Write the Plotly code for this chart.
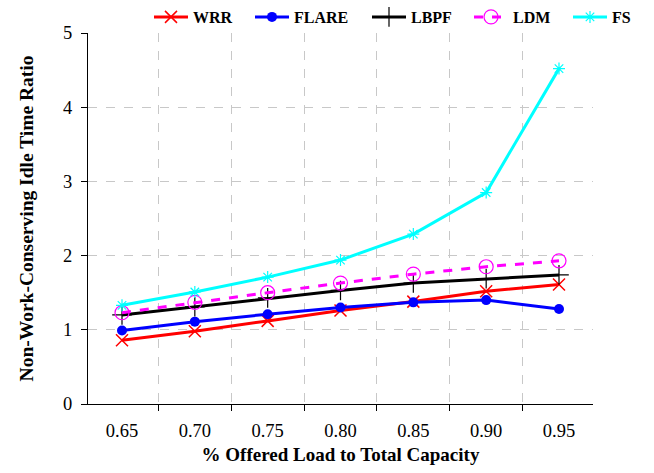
import plotly.graph_objects as go

loads = ["0.65", "0.70", "0.75", "0.80", "0.85", "0.90", "0.95"]
wrr = [0.86, 0.98, 1.12, 1.26, 1.38, 1.52, 1.61]
flare = [0.99, 1.11, 1.21, 1.30, 1.37, 1.40, 1.28]
lbpf = [1.20, 1.31, 1.43, 1.53, 1.63, 1.69, 1.74]
ldm = [1.23, 1.37, 1.50, 1.63, 1.75, 1.85, 1.93]
fs = [1.33, 1.51, 1.71, 1.94, 2.29, 2.85, 4.52]
y_ticks = [0, 1, 2, 3, 4, 5]

FONT = "Liberation Serif"
W, H = 654, 473

# name, values, colour, dash, marker, legend x (px)
series = [
    ("WRR", wrr, "#ff0000", "solid", dict(symbol="x-thin", size=12, line=dict(width=1.5, color="#ff0000")), 149),
    ("FLARE", flare, "#0000ff", "solid", dict(symbol="circle", size=10, color="#0000ff"), 250),
    ("LBPF", lbpf, "#000000", "solid", dict(symbol="cross-thin", size=14, line=dict(width=1.2, color="#000000")), 367),
    ("LDM", ldm, "#ff00ff", "dash", dict(symbol="circle-open", size=14, line=dict(width=1.2, color="#ff00ff")), 469),
    ("FS", fs, "#00ffff", "solid", dict(symbol="asterisk-open", size=10, line=dict(width=1.2, color="#00ffff")), 568),
]

fig = go.Figure()
legends = {}
for i, (name, vals, color, dash, marker, lx) in enumerate(series):
    key = "legend" if i == 0 else f"legend{i + 1}"
    fig.add_trace(go.Scatter(
        x=loads, y=vals, name=name, mode="lines+markers",
        line=dict(color=color, width=3, dash=dash),
        marker=marker, legend=key,
    ))
    legends[key] = dict(
        orientation="h", x=lx / W, y=1.0, xref="container", yref="container",
        xanchor="left", yanchor="top",
        font=dict(family=FONT, size=16, color="black", weight="bold"),
        itemwidth=34, bgcolor="rgba(0,0,0,0)",
    )

fig.update_layout(
    width=W, height=H,
    margin=dict(l=88, r=61, t=33, b=69, autoexpand=False),
    plot_bgcolor="white", paper_bgcolor="white",
    font=dict(family=FONT, size=19, color="black"),
    showlegend=True,
    **legends,
)
fig.update_xaxes(
    type="category", tickson="boundaries", ticks="outside", ticklen=6,
    tickcolor="black", showline=True, linecolor="black", linewidth=1.3,
    showgrid=True, gridcolor="#c8c8c8", griddash="dash", gridwidth=1,
    ticklabelstandoff=10,
    title=dict(text="% Offered Load to Total Capacity",
               font=dict(family=FONT, size=19, weight="bold"), standoff=7),
    tickfont=dict(family=FONT, size=18.5),
)
fig.update_yaxes(
    range=[0, 5], tickvals=y_ticks, ticks="outside", ticklen=6,
    tickcolor="black", showline=True, linecolor="black", linewidth=1.3,
    showgrid=True, gridcolor="#c8c8c8", griddash="dash", gridwidth=1,
    zeroline=False, ticklabelstandoff=5,
    title=dict(text="Non-Work-Conserving Idle Time Ratio",
               font=dict(family=FONT, size=19.5, weight="bold"), standoff=24),
    tickfont=dict(family=FONT, size=18.5),
)

fig.write_html("out.html")
